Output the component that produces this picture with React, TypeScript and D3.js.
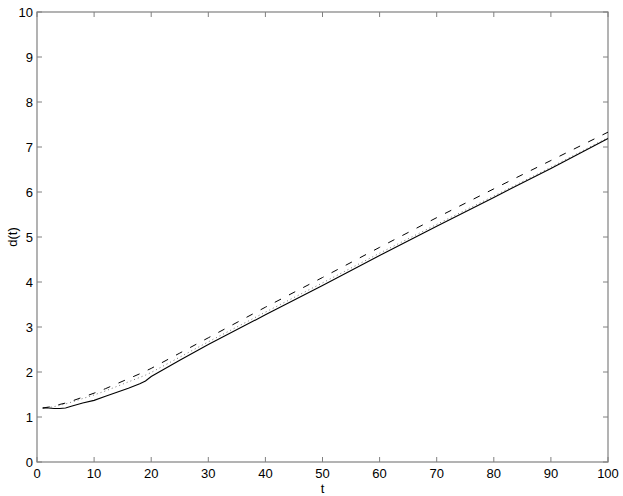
import { useEffect, useRef } from 'react'
import * as d3 from 'd3'

// data
const tVals = [1, 2, 3, 4, 5, 6, 8, 10, 12, 14, 16, 18, 19, 20, 25, 30, 40, 50, 60, 70, 80, 90, 100]
const solidVals = [1.2, 1.2, 1.19, 1.19, 1.2, 1.24, 1.31, 1.37, 1.46, 1.55, 1.64, 1.74, 1.8, 1.9, 2.26, 2.61, 3.27, 3.92, 4.59, 5.24, 5.88, 6.52, 7.19]
const dashedVals = [1.2, 1.22, 1.25, 1.28, 1.31, 1.35, 1.44, 1.53, 1.63, 1.74, 1.85, 1.96, 2.02, 2.08, 2.42, 2.76, 3.44, 4.1, 4.77, 5.43, 6.07, 6.7, 7.33]
const dottedVals = [1.2, 1.21, 1.23, 1.26, 1.29, 1.33, 1.41, 1.49, 1.58, 1.68, 1.78, 1.88, 1.93, 1.99, 2.33, 2.67, 3.33, 3.98, 4.64, 5.28, 5.91, 6.55, 7.21]
const xTicks = [0, 10, 20, 30, 40, 50, 60, 70, 80, 90, 100]
const yTicks = [0, 1, 2, 3, 4, 5, 6, 7, 8, 9, 10]

export default function App() {
  const svgRef = useRef<SVGSVGElement>(null)

  useEffect(() => {
    const width = 623
    const height = 496
    const margin = { top: 12, right: 15, bottom: 34, left: 37 }
    const innerW = width - margin.left - margin.right
    const innerH = height - margin.top - margin.bottom

    const svg = d3.select(svgRef.current)
    svg.selectAll('*').remove()
    svg.attr('width', width).attr('height', height)

    svg.append('rect').attr('width', width).attr('height', height).attr('fill', '#fff')

    const g = svg.append('g').attr('transform', `translate(${margin.left},${margin.top})`)

    const x = d3.scaleLinear().domain([0, 100]).range([0, innerW])
    const y = d3.scaleLinear().domain([0, 10]).range([innerH, 0])

    const axisColor = '#808080'
    const font = 'Liberation Sans, Arial, Helvetica, sans-serif'

    // frame
    g.append('rect')
      .attr('x', 0).attr('y', 0)
      .attr('width', innerW).attr('height', innerH)
      .attr('fill', 'none')
      .attr('stroke', axisColor)
      .attr('stroke-width', 1.2)

    const tickLen = 5
    // x ticks (bottom and top, pointing inward)
    xTicks.forEach(v => {
      const px = x(v)
      g.append('line').attr('x1', px).attr('x2', px).attr('y1', innerH).attr('y2', innerH - tickLen).attr('stroke', axisColor)
      g.append('line').attr('x1', px).attr('x2', px).attr('y1', 0).attr('y2', tickLen).attr('stroke', axisColor)
      g.append('text')
        .attr('x', px).attr('y', innerH + 16)
        .attr('text-anchor', 'middle')
        .attr('font-family', font).attr('font-size', 13)
        .attr('fill', '#000')
        .text(v)
    })
    // y ticks (left and right, pointing inward)
    yTicks.forEach(v => {
      const py = y(v)
      g.append('line').attr('x1', 0).attr('x2', tickLen).attr('y1', py).attr('y2', py).attr('stroke', axisColor)
      g.append('line').attr('x1', innerW).attr('x2', innerW - tickLen).attr('y1', py).attr('y2', py).attr('stroke', axisColor)
      g.append('text')
        .attr('x', -4).attr('y', py)
        .attr('dy', '0.35em')
        .attr('text-anchor', 'end')
        .attr('font-family', font).attr('font-size', 13)
        .attr('fill', '#000')
        .text(v)
    })

    // axis labels
    g.append('text')
      .attr('x', innerW / 2).attr('y', innerH + 31)
      .attr('text-anchor', 'middle')
      .attr('font-family', font).attr('font-size', 13)
      .text('t')
    g.append('text')
      .attr('transform', `translate(${-20},${innerH / 2}) rotate(-90)`)
      .attr('text-anchor', 'middle')
      .attr('font-family', font).attr('font-size', 13)
      .text('d(t)')

    const line = d3.line<number>()
      .x((_, i) => x(tVals[i]))
      .y(d => y(d))

    g.append('path')
      .attr('d', line(dottedVals))
      .attr('fill', 'none')
      .attr('stroke', '#777')
      .attr('stroke-width', 1)
      .attr('stroke-dasharray', '1,3')

    g.append('path')
      .attr('d', line(dashedVals))
      .attr('fill', 'none')
      .attr('stroke', '#000')
      .attr('stroke-width', 1)
      .attr('stroke-dasharray', '7,9')

    g.append('path')
      .attr('d', line(solidVals))
      .attr('fill', 'none')
      .attr('stroke', '#000')
      .attr('stroke-width', 1.1)
  }, [])

  return (
    <div>
      <svg ref={svgRef} style={{ display: 'block', position: 'absolute', left: 0, top: 0 }}></svg>
    </div>
  )
}
